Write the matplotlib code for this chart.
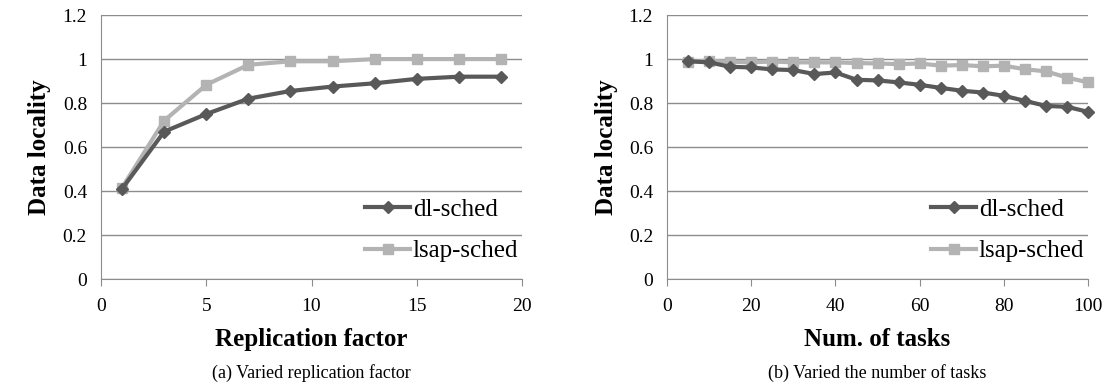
import numpy as np
import matplotlib.pyplot as plt

plt.rcParams['font.family'] = ['Liberation Serif', 'DejaVu Serif']

# (a) replication factor
rep = [1, 3, 5, 7, 9, 11, 13, 15, 17, 19]
rep_dl = [0.41, 0.67, 0.75, 0.82, 0.855, 0.875, 0.89, 0.91, 0.92, 0.92]
rep_lsap = [0.415, 0.72, 0.883, 0.974, 0.99, 0.99, 1.0, 1.0, 1.0, 1.0]

# (b) number of tasks
tasks = [5, 10, 15, 20, 25, 30, 35, 40, 45, 50, 55, 60, 65, 70, 75, 80, 85, 90, 95, 100]
tasks_dl = [0.99, 0.985, 0.965, 0.962, 0.953, 0.95, 0.932, 0.939, 0.906, 0.903,
            0.894, 0.883, 0.869, 0.856, 0.848, 0.833, 0.81, 0.787, 0.783, 0.76]
tasks_lsap = [0.989, 0.992, 0.988, 0.985, 0.989, 0.985, 0.985, 0.985, 0.982, 0.98,
              0.977, 0.98, 0.97, 0.973, 0.967, 0.97, 0.954, 0.944, 0.916, 0.894]

c_dl = '#595959'
c_lsap = '#b3b3b3'
grid_c = '#8c8c8c'

fig = plt.figure(figsize=(11.11, 3.87), dpi=100)
ax1 = fig.add_axes([0.0909, 0.279, 0.379, 0.682])
ax2 = fig.add_axes([0.6004, 0.279, 0.379, 0.682])

panels = [
    (ax1, rep, rep_dl, rep_lsap, (0, 20), [0, 5, 10, 15, 20], 'Replication factor', '(a) Varied replication factor'),
    (ax2, tasks, tasks_dl, tasks_lsap, (0, 100), [0, 20, 40, 60, 80, 100], 'Num. of tasks', '(b) Varied the number of tasks'),
]

for ax, x, dl, lsap, xlim, xt, xlab, cap in panels:
    ax.plot(x, dl, color=c_dl, lw=3, marker='D', ms=6.5, label='dl-sched', zorder=3, clip_on=False)
    ax.plot(x, lsap, color=c_lsap, lw=3, marker='s', ms=6.5, label='lsap-sched', zorder=2, clip_on=False)
    ax.set_xlim(*xlim)
    ax.set_ylim(0, 1.2)
    ax.set_xticks(xt)
    ax.set_yticks([0, 0.2, 0.4, 0.6, 0.8, 1.0, 1.2])
    ax.set_yticklabels(['0', '0.2', '0.4', '0.6', '0.8', '1', '1.2'])
    ax.grid(axis='y', color=grid_c, lw=1)
    ax.set_axisbelow(True)
    for s in ['top', 'right']:
        ax.spines[s].set_visible(False)
    for s in ['left', 'bottom']:
        ax.spines[s].set_color(grid_c)
    ax.tick_params(axis='y', length=0, labelsize=14, pad=10)
    ax.tick_params(axis='x', length=5, color=grid_c, labelsize=14, pad=9)
    ax.set_ylabel('Data locality', fontsize=18, fontweight='bold', labelpad=8)
    ax.set_xlabel(xlab, fontsize=18, fontweight='bold', labelpad=9)
    ax.legend(loc='lower right', bbox_to_anchor=(1.015, 0.025), frameon=False, fontsize=18,
              handlelength=1.8, handletextpad=0.1, labelspacing=0.75, borderaxespad=0)
    ax.text(0.5, -0.356, cap, transform=ax.transAxes, ha='center', va='center', fontsize=13)

fig.savefig('out.png', dpi=100)
